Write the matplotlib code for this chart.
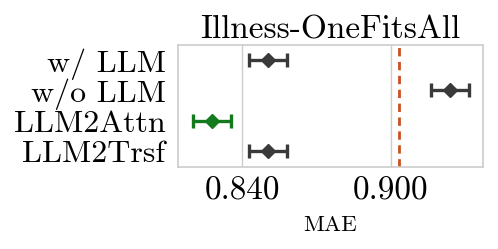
import matplotlib
matplotlib.use("Agg")
import matplotlib.pyplot as plt
import numpy as np

plt.rcParams['font.family'] = 'serif'
plt.rcParams['font.serif'] = ['cmr10']
plt.rcParams['mathtext.fontset'] = 'cm'
plt.rcParams['axes.formatter.use_mathtext'] = True
plt.rcParams['axes.unicode_minus'] = False

labels = ["w/ LLM", "w/o LLM", "LLM2Attn", "LLM2Trsf"]
mae = [0.8506, 0.9238, 0.8278, 0.8506]
err = [0.0077, 0.0078, 0.0077, 0.0077]
colors = ["#3a3a3a", "#3a3a3a", "#137a1e", "#3a3a3a"]
ref_line = 0.9033
xticks = [0.840, 0.900]


def main():
    fig = plt.figure(figsize=(4.98, 2.49), dpi=100)
    ax = fig.add_axes([178/498, 1 - 166.7/249, (483 - 178)/498, (166.7 - 44.7)/249])

    for i, (m, e, c) in enumerate(zip(mae, err, colors)):
        ax.errorbar(m, i, xerr=e, fmt='D', color=c, ecolor=c, markersize=7,
                    elinewidth=2.4, capsize=5, capthick=2.4, zorder=3)

    ax.axvline(ref_line, color="#c9501f", linestyle=(0, (3, 2.0)), linewidth=2, zorder=2)

    ax.set_xlim(0.8142, 0.9371)
    ax.set_ylim(3.5, -0.5)
    ax.set_yticks(range(len(labels)))
    ax.set_yticklabels(labels, fontsize=23)
    ax.set_xticks(xticks)
    ax.set_xticklabels([f"{t:.3f}" for t in xticks], fontsize=24)
    ax.tick_params(axis='y', length=0, pad=9)
    ax.tick_params(axis='x', length=0, pad=7)
    ax.grid(axis='x', color="#cccccc", linewidth=1)
    ax.set_axisbelow(True)
    for s in ax.spines.values():
        s.set_color("#cccccc")
        s.set_linewidth(1.2)

    ax.set_title("Illness-OneFitsAll", fontsize=24, pad=4)
    ax.set_xlabel("MAE", fontsize=16.5, labelpad=7)

    fig.savefig("out.png", dpi=100)


if __name__ == "__main__":
    main()
